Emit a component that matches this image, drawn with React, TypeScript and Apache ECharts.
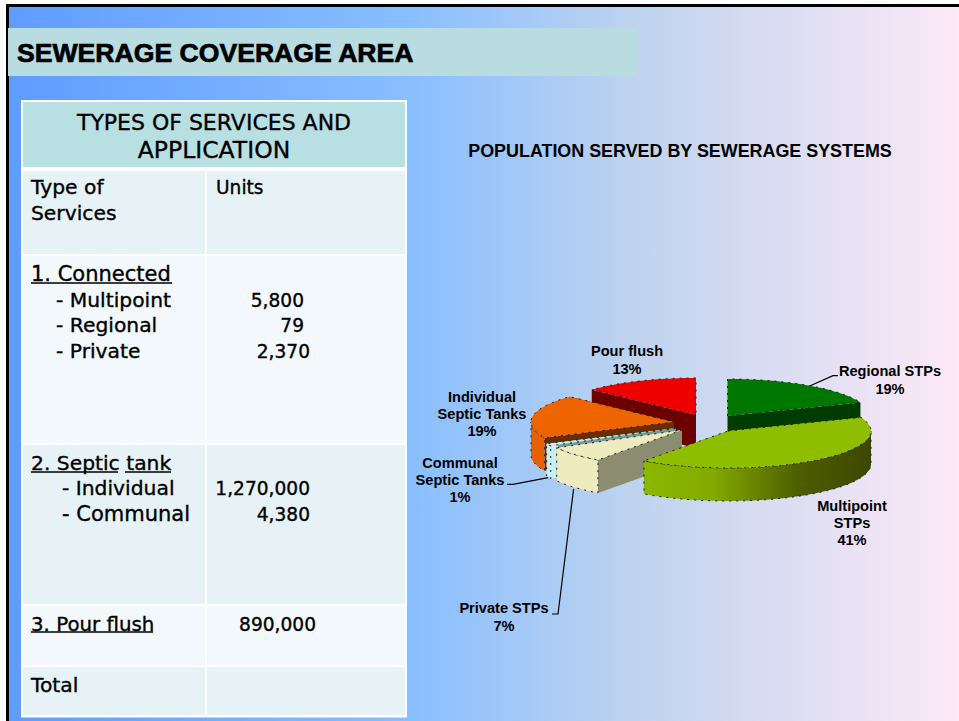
import React, { useEffect, useRef } from "react";
import * as echarts from "echarts";

const slideTitle = "SEWERAGE COVERAGE AREA";
const chartTitle = "POPULATION SERVED BY SEWERAGE SYSTEMS";
const tableHeading = ["TYPES OF SERVICES AND", "APPLICATION"];

// Pie values, clockwise from twelve o'clock
const pieNames = ["Regional STPs", "Multipoint STPs", "Private STPs", "Communal Septic Tanks", "Individual Septic Tanks", "Pour flush"];
const pieValues = [19, 41, 7, 1, 19, 13];
const drawOrder = [0, 5, 4, 3, 2, 1];

// Table values
const connectedUnits = ["5,800", "79", "2,370"];
const septicUnits = ["1,270,000", "4,380"];
const pourFlushUnits = "890,000";

// Slice look and layout, same order as pieNames
const sliceVertices = [[727.5, 416], [728, 431], [682, 430], [676, 428], [674, 422], [696, 415]];
const sliceTops = ["#007800", "#8FBD00", "#EEEBBF", "#C8F0F0", "#EE6400", "#EE0000"];
const sliceFaces = ["#003C00", "#5F7A00", "#8C8C70", "#6F9A9A", "#6B2D00", "#6B0000"];
const sliceBands = ["#007800", "#8CB800", "#EEEBBF", "#C8F0F0", "#E86000", "#EE0000"];
const RX = 143, RY = 37, DEPTH = 33;
const labelLayouts = [
  { x: 890, y: [371, 388.5], lines: ["Regional STPs"] },
  { x: 852, y: [506, 523, 540], lines: ["Multipoint", "STPs"] },
  { x: 504, y: [608, 626], lines: ["Private STPs"] },
  { x: 460, y: [463, 480, 497], lines: ["Communal", "Septic Tanks"] },
  { x: 482, y: [397, 414, 431], lines: ["Individual", "Septic Tanks"] },
  { x: 627, y: [351, 369], lines: ["Pour flush"] },
];
const leaderLines = [
  [[808, 386.7], [833, 375.7], [838, 375.7]],
  [[549.5, 477.3], [513, 484.3], [507, 484.3]],
  [[573.6, 489], [558, 614], [552, 614]],
];

const FONT_T = '"DejaVu Sans"';
const FONT_A = '"Liberation Sans"';

const text = (t: string, x: number, y: number, o: any = {}) => ({
  type: "text", x, y, z: 5, silent: true,
  style: {
    text: t, fill: "#000", align: o.align || "left", verticalAlign: "middle",
    fontFamily: o.family || FONT_T, fontSize: o.size || 20.3, fontWeight: o.weight || "normal",
    ...(o.family ? (o.heavy ? { stroke: "#000", lineWidth: 0.7 } : {}) : { stroke: "#000", lineWidth: 0.35 }),
  },
});
const rect = (x0: number, y0: number, x1: number, y1: number, fill: any, z = 1) => ({
  type: "rect", z, silent: true, shape: { x: x0, y: y0, width: x1 - x0, height: y1 - y0 }, style: { fill },
});
const uline = (x0: number, x1: number, y: number) => ({
  type: "line", z: 5, silent: true, shape: { x1: x0, y1: y, x2: x1, y2: y }, style: { stroke: "#000", lineWidth: 1.5 },
});

function point(v: number[], a: number): number[] {
  return [v[0] + RX * Math.sin(a), v[1] - RY * Math.cos(a)];
}
function arc(v: number[], a0: number, a1: number): number[][] {
  const n = Math.max(2, Math.ceil(Math.abs(a1 - a0) / 0.04));
  const out: number[][] = [];
  for (let i = 0; i <= n; i++) out.push(point(v, a0 + ((a1 - a0) * i) / n));
  return out;
}
const drop = (p: number[]) => [p[0], p[1] + DEPTH];
const edge = { stroke: "#1c1c1c", lineWidth: 1, lineDash: [2, 5] };

function renderSlice(params: any) {
  const i = drawOrder[params.dataIndex];
  const total = pieValues.reduce((s, x) => s + x, 0);
  const before = pieValues.slice(0, i).reduce((s, x) => s + x, 0);
  const a0 = (before / total) * Math.PI * 2;
  const a1 = ((before + pieValues[i]) / total) * Math.PI * 2;
  const v = sliceVertices[i];
  const kids: any[] = [];
  const faceFill = i === 3
    ? new echarts.graphic.LinearGradient(0, 0, 1, 0, [
        { offset: 0, color: "#C8F0F0" }, { offset: 0.055, color: "#C8F0F0" },
        { offset: 0.06, color: "#6F9A9A" }, { offset: 1, color: "#6F9A9A" },
      ])
    : sliceFaces[i];
  const face = (a: number) => {
    const p = point(v, a);
    return { type: "polygon", shape: { points: [v, p, drop(p), drop(v)] }, style: { fill: faceFill } };
  };
  // hidden cut faces first, visible ones after
  const startVisible = Math.cos(a0 - Math.PI / 2) < 0;
  const endVisible = Math.cos(a1 + Math.PI / 2) < 0;
  if (!startVisible) kids.push(face(a0));
  if (!endVisible) kids.push(face(a1));
  if (startVisible) kids.push(face(a0));
  if (endVisible) kids.push(face(a1));
  const b0 = Math.max(a0, Math.PI / 2);
  const b1 = Math.min(a1, (Math.PI * 3) / 2);
  if (b1 > b0) {
    const top = arc(v, b0, b1);
    const fill = i === 1
      ? new echarts.graphic.LinearGradient(0, 0, 1, 0, [
          { offset: 0, color: "#8CB800" }, { offset: 0.3, color: "#83AB00" },
          { offset: 0.68, color: "#4E5E00" }, { offset: 1, color: "#3C4800" },
        ])
      : sliceBands[i];
    kids.push({
      type: "polygon",
      shape: { points: top.concat(top.map(drop).reverse()) },
      style: { fill, ...edge },
    });
  }
  kids.push({
    type: "polygon",
    shape: { points: [v, ...arc(v, a0, a1)] },
    style: { fill: sliceTops[i], ...edge },
  });
  return { type: "group", children: kids };
}

function buildGraphics() {
  const g: any[] = [];
  g.push(rect(0, 0, 959, 721, "#fff", -3));
  g.push(rect(8, 7, 959, 721, new echarts.graphic.LinearGradient(0, 0, 1, 0, [
    { offset: 0, color: "#5F9CFF" }, { offset: 0.43, color: "#8ABFFF" },
    { offset: 0.66, color: "#BFD3EE" }, { offset: 1, color: "#FDE9F8" },
  ]), -2));
  g.push(rect(6, 4, 959, 7, "#000", -1));
  g.push(rect(6, 4, 9, 721, "#000", -1));
  g.push(rect(8, 28, 637, 76, "#B8DCE0", 0));
  g.push(text(slideTitle, 17, 53, { family: FONT_A, weight: "bold", size: 26.6, heavy: true }));

  // Table
  g.push(rect(21, 100, 407, 717.5, "#fff", 0));
  g.push(rect(23, 102, 405, 167, "#B8DFE2"));
  const rows: [number, number, string][] = [
    [171, 254, "#E6F2F5"], [256, 442.5, "#F2F8FB"], [445, 604, "#E6F2F5"], [606, 665, "#F2F8FB"], [667, 715, "#E6F2F5"],
  ];
  rows.forEach(([a, b, c]) => {
    g.push(rect(23, a, 205, b, c));
    g.push(rect(207, a, 405, b, c));
  });
  g.push(text(tableHeading[0], 214, 122, { align: "center", size: 22 }) as any);
  g.push(text(tableHeading[1], 214, 150, { align: "center", size: 23.5 }) as any);
  g.push(text("Type of", 31, 187), text("Services", 31, 213), text("Units", 216, 187, { size: 18.6 }));
  g.push(text("1. Connected", 31, 274, { size: 21 }), uline(31, 172, 283));
  g.push(text("- Multipoint", 56, 300), text("- Regional", 56, 325), text("- Private", 56, 351));
  const num = { align: "right", size: 18.6 };
  g.push(text(connectedUnits[0], 304, 300, num));
  g.push(text(connectedUnits[1], 304, 325, num));
  g.push(text(connectedUnits[2], 310, 351, num));
  g.push(text("2. Septic tank", 31, 463), uline(31, 118, 472), uline(125, 171, 472));
  g.push(text("- Individual", 62, 488), text("- Communal", 62, 514, { size: 21 }));
  g.push(text(septicUnits[0], 310, 488, num));
  g.push(text(septicUnits[1], 310, 514, num));
  g.push(text("3. Pour flush", 31, 624, { size: 19.8 }), uline(31, 153, 632));
  g.push(text(pourFlushUnits, 316, 624, num));
  g.push(text("Total", 31, 685));

  // Chart texts
  g.push(text(chartTitle, 680, 151, { family: FONT_A, weight: "bold", size: 17.9, align: "center" }));
  pieNames.forEach((_, i) => {
    const l = labelLayouts[i];
    const lines = [...l.lines, `${pieValues[i]}%`];
    lines.forEach((s, k) => g.push(text(s, l.x, l.y[k], { family: FONT_A, weight: "bold", size: 14.6, align: "center" })));
  });
  leaderLines.forEach((pts) =>
    g.push({ type: "polyline", z: 4, silent: true, shape: { points: pts }, style: { stroke: "#000", lineWidth: 1.2, fill: "none" } })
  );
  return g;
}

export default function App() {
  const ref = useRef<HTMLDivElement>(null);
  useEffect(() => {
    document.body.style.margin = "0";
    const chart = echarts.init(ref.current!, undefined, { renderer: "svg" });
    chart.setOption({
      animation: false,
      graphic: { elements: buildGraphics() },
      series: [
        {
          type: "custom",
          coordinateSystem: "none",
          z: 10,
          silent: true,
          renderItem: renderSlice,
          data: drawOrder.map((i) => ({ name: pieNames[i], value: pieValues[i] })),
        },
      ],
    });
    return () => chart.dispose();
  }, []);
  return <div ref={ref} style={{ width: 959, height: 721, position: "absolute", left: 0, top: 0 }} />;
}
